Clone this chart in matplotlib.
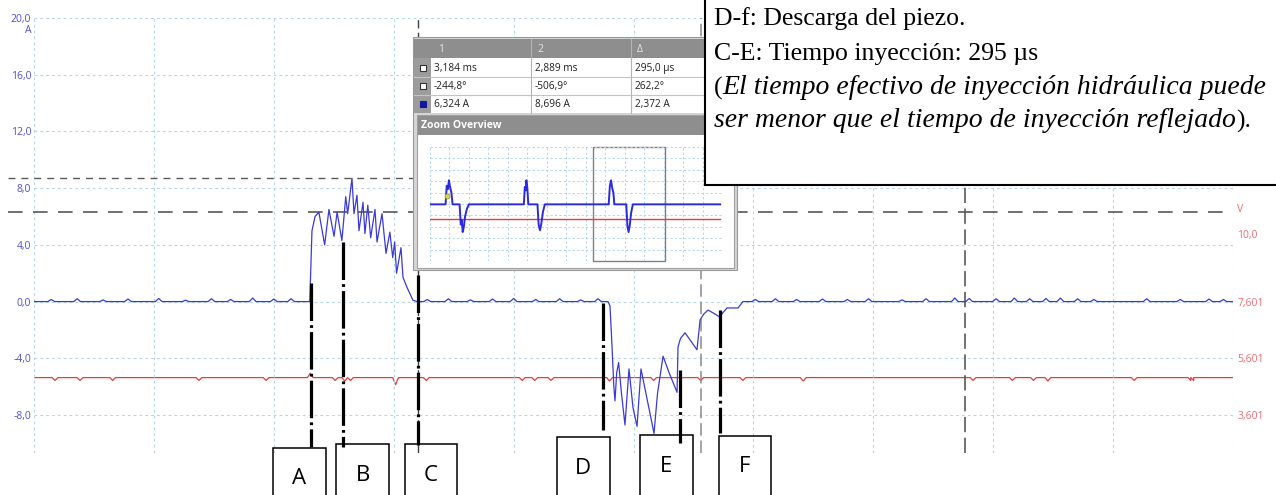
import numpy as np
import matplotlib as mpl
mpl.use('Agg')
import matplotlib.pyplot as plt
from matplotlib.patches import Rectangle
from matplotlib.transforms import blended_transform_factory

plt.rcParams['lines.scale_dashes'] = False
plt.rcParams['font.family'] = ['Open Sans', 'DejaVu Sans']

# time axis: microseconds from the left edge of the screen (10 div x 125 us)
# channel A, current (blue) - charge pulse A..C
charge_t = [287.5, 289.8, 293.0, 297.0, 303.0, 307.5, 312.8, 316.0, 321.0, 325.0,
            327.0, 331.5, 333.6, 336.7, 338.8, 343.0, 345.0, 348.0, 351.0, 355.5,
            357.6, 362.8, 367.0, 371.0, 374.0, 376.0, 378.0, 382.6, 384.7, 388.9,
            395.0, 399.3]
charge_a = [0.0, 5.0, 6.0, 6.3, 4.0, 6.5, 4.6, 6.3, 4.3, 7.4,
            6.2, 8.7, 6.2, 7.5, 5.0, 7.0, 4.8, 6.8, 4.5, 6.5,
            4.2, 6.2, 3.4, 4.9, 3.1, 4.2, 2.0, 3.8, 1.7, 1.0,
            0.1, 0.0]
# discharge pulse D..F
disch_t = [598.4, 600.5, 602.5, 604.5, 605.7, 607.5, 609.5, 612.5, 616.1, 620.3,
           624.5, 628.7, 632.8, 638.0, 646.4, 650.0, 655.8, 662.0, 670.4, 671.4,
           674.0, 678.7, 685.0, 691.2, 694.4, 698.0, 702.7, 708.0, 715.2, 718.0,
           722.5, 734.0, 739.1]
disch_a = [0.0, -0.3, -3.0, -6.0, -7.0, -5.0, -4.3, -6.5, -8.7, -4.75,
           -7.5, -8.8, -4.75, -6.5, -9.3, -6.5, -3.85, -5.0, -6.4, -3.2,
           -2.6, -2.2, -2.8, -3.4, -1.3, -0.9, -0.6, -0.8, -1.1, -0.8,
           -0.45, -0.45, 0.0]
# small ripples on the zero line
bump_t = [18, 45, 72, 98, 130, 158, 185, 205, 228, 250, 268, 410, 432, 455, 478,
          500, 523, 548, 570, 588, 752, 773, 795, 822, 848, 870, 905, 930, 960,
          975, 1003, 1022, 1038, 1055, 1070, 1088, 1105, 1160, 1195, 1225, 1240]
bump_a = [0.15, 0.2, 0.12, 0.18, 0.22, 0.1, 0.2, 0.15, 0.25, 0.18, 0.2, 0.15, 0.2, 0.12, 0.18,
          0.22, 0.15, 0.2, 0.12, 0.2, 0.15, 0.2, 0.15, 0.18, 0.15, 0.2, 0.12, 0.2, 0.25,
          0.22, 0.2, 0.25, 0.2, 0.22, 0.25, 0.2, 0.15, 0.2, 0.15, 0.18, 0.15]

# channel B, voltage (red)
red_level = 4.92
glitch_t = [22, 48, 82, 172, 242, 288, 314, 324, 330, 377, 409, 509, 522, 539, 600,
            646, 695, 739, 802, 979, 1020, 1042, 1057, 1147, 1206, 1209]
glitch_v = [-0.1, -0.1, -0.1, -0.1, -0.1, 0.15, -0.1, -0.12, -0.1, -0.25, -0.1, -0.1,
            -0.1, -0.1, -0.12, -0.1, -0.1, -0.1, -0.12, -0.1, -0.1, -0.1, -0.12,
            -0.1, -0.1, -0.1]

# cursors
cursor_t = [400.0, 695.0]
cursor_a = [8.696, 6.324]
ref_t = 970.6

# event markers
marker_names = ['A', 'B', 'C', 'D', 'E', 'F']
marker_t = [289, 322, 400, 593, 673, 715]
marker_top = [1.3, 4.2, 1.9, -0.1, -4.8, -0.6]
marker_bot = [-10.25, -10.25, -10.1, -9.05, -9.95, -9.27]
box_t = [276.6, 342.8, 413.8, 572.8, 659.4, 741.2]
box_top = [-10.3, -10.05, -10.05, -9.55, -9.4, -9.45]

left_ticks = [-8, -4, 0, 4, 8, 12, 16, 20]
right_ticks = [3.601, 5.601, 7.601, 10.0]
right_labels = ['3,601', '5,601', '7,601', '10,0']

# zoom overview trace (divisions)
ov_x = [0.0, 0.80, 0.86, 0.92, 0.97, 1.03, 1.10, 1.16, 1.52, 1.58, 1.63, 1.68, 1.74, 1.80,
        1.90, 2.00, 4.82, 4.87, 4.92, 4.95, 5.00, 5.05, 5.52, 5.58, 5.65, 5.72, 5.80, 5.90,
        9.18, 9.24, 9.30, 9.36, 9.42, 9.47, 10.08, 10.14, 10.20, 10.26, 10.33, 10.42, 14.9]
ov_y = [4.97, 4.97, 6.6, 6.3, 7.08, 6.5, 6.0, 4.97, 4.97, 3.2, 3.6, 2.54, 3.0, 3.9,
        4.6, 4.97, 4.97, 6.5, 6.2, 7.08, 6.4, 4.97, 4.97, 3.2, 2.69, 3.3, 4.3, 4.97,
        4.97, 6.6, 7.08, 6.4, 6.0, 4.97, 4.97, 3.1, 2.54, 3.1, 4.2, 4.97, 4.97]
ov_red = 3.66
ov_window = (8.36, 12.07)

table_rows = [['3,184 ms', '2,889 ms', '295,0 µs'],
              ['-244,8°', '-506,9°', '262,2°'],
              ['6,324 A', '8,696 A', '2,372 A']]

BLUE = '#3a3ad8'
RED = '#e63c3c'
GRID = '#b6d5e8'

W, H = 1276, 495
fig = plt.figure(figsize=(W / 100, H / 100), dpi=100)

# main scope axes
ax = fig.add_axes([34 / W, 1 - 453 / H, 1199 / W, 435 / H])
ax2 = ax.twinx()
ax.set_zorder(2)
ax2.set_zorder(1)
ax.patch.set_visible(False)

ax.set_xlim(0, 1250)
ax.set_ylim(-10.68, 20)
ax2.set_ylim(7.601 + 0.5 * -10.68, 7.601 + 0.5 * 20)
for a in (ax, ax2):
    for s in a.spines.values():
        s.set_visible(False)
ax.set_xticks(np.arange(0, 1251, 125))
ax.set_xticklabels([])
ax.set_yticks(left_ticks)
ax.set_yticklabels([f'{v:.1f}'.replace('.', ',') for v in left_ticks])
ax.tick_params(length=0, pad=2, labelsize=7.5, labelcolor='#5050d6')
ax.grid(True, color=GRID, linestyle=(0, (2.0, 2.2)), lw=0.8)
ax2.set_yticks(right_ticks)
ax2.set_yticklabels(right_labels)
ax2.tick_params(length=0, pad=3, labelsize=7.5, labelcolor='#ea6e76')
ax.text(-0.002, 19.15, 'A', transform=blended_transform_factory(ax.transAxes, ax.transData),
        ha='right', va='center', fontsize=7.5, color='#5050d6')
ax.text(1.003, 6.46, 'V', transform=blended_transform_factory(ax.transAxes, ax.transData),
        ha='left', va='center', fontsize=7.5, color='#ea6e76')

# blue trace
pts = [(0.0, 0.0), (1250.0, 0.0)]
pts += list(zip(charge_t, charge_a)) + list(zip(disch_t, disch_a))
for t, h in zip(bump_t, bump_a):
    pts += [(t - 3.5, 0.0), (t, h), (t + 3.5, 0.0)]
pts.sort()
bt, ba = zip(*pts)
ax.plot(bt, ba, color=BLUE, lw=0.9, zorder=3)

# red trace
rpts = [(0.0, red_level), (1250.0, red_level)]
for t, dv in zip(glitch_t, glitch_v):
    rpts += [(t - 3, red_level), (t, red_level + dv), (t + 3, red_level)]
rpts.sort()
rt, rv = zip(*rpts)
ax2.plot(rt, rv, color=RED, lw=0.9)

# cursors
hx = blended_transform_factory(ax.transAxes, ax.transData)
ax.plot([-0.022, 1.0], [cursor_a[0]] * 2, transform=hx, clip_on=False,
        color='#5a5a5a', lw=1.0, dashes=(5, 4.3))
ax.plot([-0.022, 1.0], [cursor_a[1]] * 2, transform=hx, clip_on=False,
        color='#4a4a4a', lw=1.1, dashes=(10.5, 7.5))
ax.axvline(cursor_t[0], color='#404040', lw=1.0, dashes=(6, 3))
ax.axvline(cursor_t[1], color='#8a8a8a', lw=1.1, dashes=(9, 3.5))
ax.axvline(ref_t, color='#5a5a5a', lw=1.2, dashes=(11, 4))

# event markers and label boxes
for name, t, y0, y1, bx, by in zip(marker_names, marker_t, marker_top, marker_bot, box_t, box_top):
    ax.plot([t, t], [y0, y1], color='black', lw=2.3, dashes=(27, 3, 2, 3),
            clip_on=False, zorder=5)
    ax.add_patch(Rectangle((bx - 27.5, by - 6), 55, 6, transform=ax.transData,
                           fill=False, ec='black', lw=1.1, clip_on=False, zorder=5))
    ax.text(bx, by - 2.2, name, ha='center', va='center', fontsize=16, color='black',
            clip_on=False, zorder=6)

# overlay in pixel coordinates
ov = fig.add_axes([0, 0, 1, 1])
ov.set_zorder(3)
ov.set_xlim(0, W)
ov.set_ylim(H, 0)
ov.axis('off')


def rect(x0, y0, x1, y1, **kw):
    ov.add_patch(Rectangle((x0, y0), x1 - x0, y1 - y0, **kw))


rect(413, 37, 737, 270, fc='#d6d6d6', ec='#9a9a9a', lw=0.8)
rect(414, 39, 737, 58, fc='#8e8e8e', ec='none')
rect(414, 58, 431, 113, fc='#9c9c9c', ec='none')
rect(431, 58, 737, 113, fc='white', ec='none')
for yy in (77, 95):
    ov.plot([414, 737], [yy, yy], color='#c4c4c4', lw=0.8)
for xx in (531, 631):
    ov.plot([xx, xx], [39, 113], color='#b4b4b4', lw=0.8)
for xx, lab in zip((438, 537, 637), ('1', '2', 'Δ')):
    ov.text(xx, 49, lab, ha='left', va='center', fontsize=7.5, color='#e4e4e4')
for i, row in enumerate(table_rows):
    yc = 68 + 18 * i
    if i < 2:
        rect(420, yc - 3, 426, yc + 3, fc='white', ec='#333333', lw=0.8)
    else:
        rect(420, yc - 3, 426, yc + 3, fc='#14149c', ec='#14149c', lw=0.8)
    for xx, s in zip((434, 535, 635), row):
        ov.text(xx, yc, s, ha='left', va='center', fontsize=7.3, color='#202020')

rect(417, 115, 734, 268, fc='white', ec='#a0a0a0', lw=0.8)
rect(418, 116, 734, 135, fc='#8e8e8e', ec='none')
ov.text(421, 125.5, 'Zoom Overview', ha='left', va='center', fontsize=7.5,
        color='white', fontweight='bold')

# zoom overview mini chart
oax = fig.add_axes([430 / W, 1 - 261 / H, 292 / W, 114 / H])
oax.set_zorder(4)
oax.set_xlim(0, 15)
oax.set_ylim(0, 10)
for s in oax.spines.values():
    s.set_visible(False)
oax.set_xticks(np.arange(0, 15.1, 1))
oax.set_yticks(np.arange(0, 10.1, 1))
oax.tick_params(length=0, labelbottom=False, labelleft=False)
oax.grid(True, color=GRID, linestyle=(0, (1.6, 1.6)), lw=0.7)
oax.patch.set_visible(False)
oax.plot([0, 14.9], [ov_red, ov_red], color=RED, lw=1.0)
oax.plot(ov_x, ov_y, color='#2a2ae0', lw=1.4)
oax.add_patch(Rectangle((ov_window[0], 0), ov_window[1] - ov_window[0], 10,
                        fill=False, ec='#808080', lw=1.0, clip_on=False))
oax.plot([0.87], [5.7], 'o', ms=3.5, color='#e0d44a', mec='#a89a30', mew=0.6)

# text box on top
top = fig.add_axes([0, 0, 1, 1])
top.set_zorder(5)
top.set_xlim(0, W)
top.set_ylim(H, 0)
top.axis('off')
top.add_patch(Rectangle((705, -5), 590, 190, fc='white', ec='black', lw=1.5))
serif = dict(family='Liberation Serif', fontsize=18.5, color='black')
ital = dict(family='Liberation Serif', fontsize=20, color='black', style='italic')
top.text(714, 25, 'D-f: Descarga del piezo.', va='baseline', **serif)
top.text(714, 60, 'C-E: Tiempo inyección: 295 µs', va='baseline', **serif)
t1 = top.text(714, 95, '(', va='baseline', **serif)
top.annotate('El tiempo efectivo de inyección hidráulica puede', xy=(1, 0), xycoords=t1,
             va='bottom', ha='left', **ital)
t2 = top.text(714, 127, 'ser menor que el tiempo de inyección reflejado', va='baseline',
              **ital)
top.annotate(').', xy=(1, 0), xycoords=t2, va='bottom', ha='left', **serif)

fig.savefig('out.png', dpi=100, facecolor='white')
